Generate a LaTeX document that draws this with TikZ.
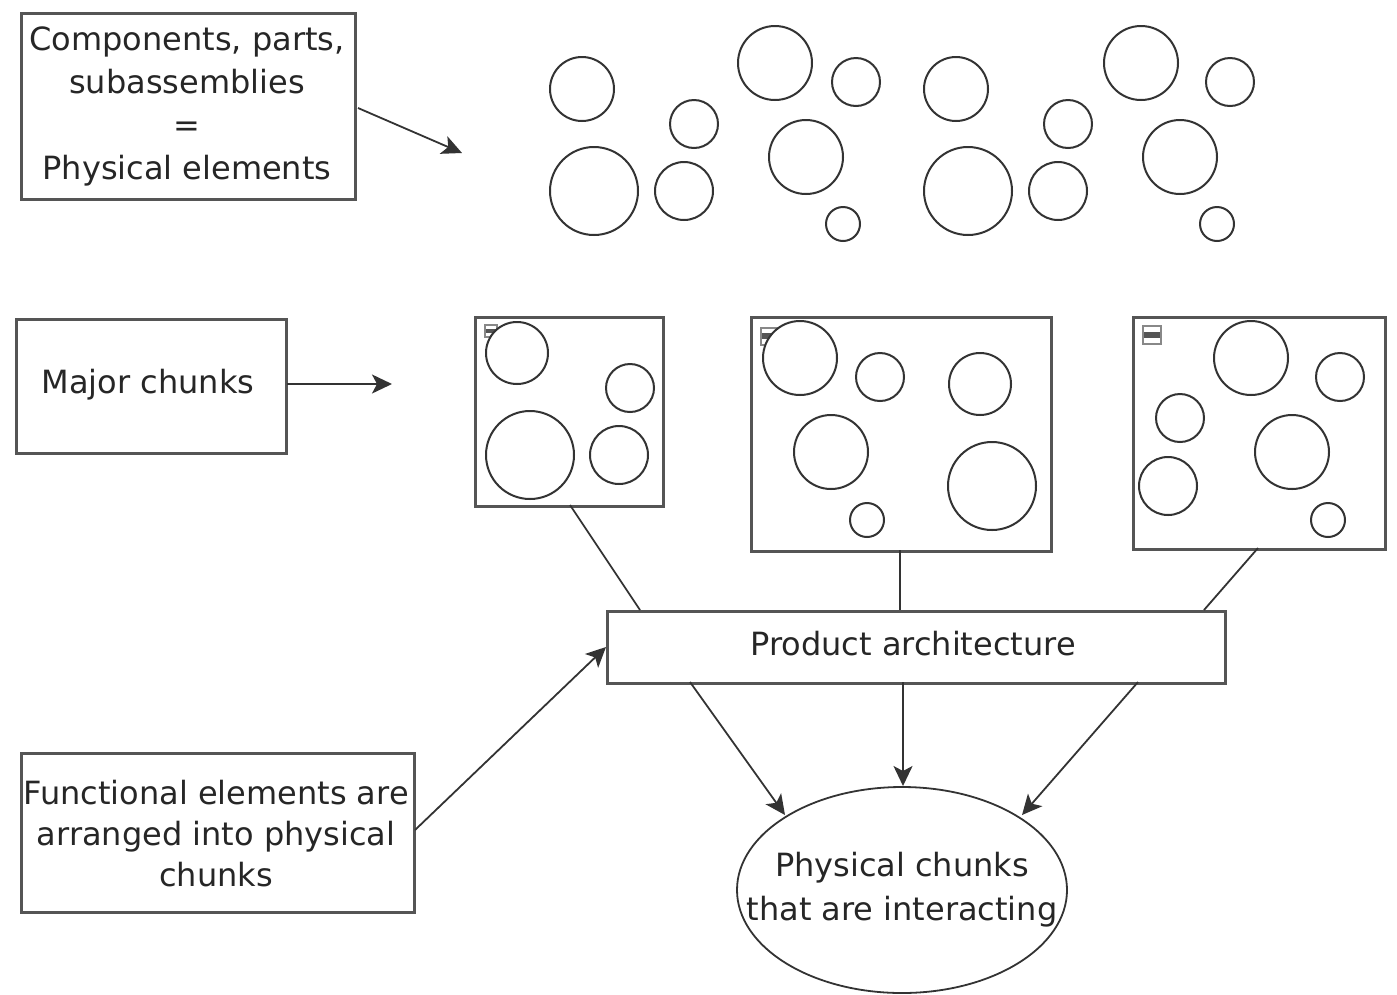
\documentclass[tikz,border=0pt]{standalone}
\usepackage{fontspec}
\setmainfont{DejaVu Sans}
\usetikzlibrary{arrows.meta,shapes.geometric}
\definecolor{ln}{HTML}{333333}
\definecolor{bx}{HTML}{555555}
\begin{document}
\begin{tikzpicture}[x=1pt,y=-1pt,
  lbox/.style={draw=bx,line width=2.6pt,fill=white},
  circ/.style={draw=ln,line width=2pt,fill=white},
  conn/.style={draw=ln,line width=1.8pt},
  arr/.style={conn,-{Stealth[length=20pt,width=19pt,inset=5pt]}},
  txt/.style={font=\fontsize{32}{43}\selectfont,text=black!85,align=center},
  tinysq/.style={draw=bx!70,line width=1.4pt,fill=white}
]
\useasboundingbox (0,0) rectangle (1397,994);

% ---- top-left box
\node[lbox,minimum width=334pt,minimum height=186pt,anchor=north west] (b1) at (20,12) {};
\node[txt] (t1) at (187,106) {Components, parts,\\subassemblies\\=\\Physical elements};
\coordinate (a1s) at (358,108);
\coordinate (a1e) at (462,153);
\draw[arr] (a1s) -- (a1e);

% ---- loose circles
\foreach \dx in {0,374}{
  \begin{scope}[xshift=\dx]
  \draw[circ] (582,89) circle (32);
  \draw[circ] (594,191) circle (44);
  \draw[circ] (694,124) circle (24);
  \draw[circ] (684,191) circle (29);
  \draw[circ] (856,82) circle (24);
  \draw[circ] (806,157) circle (37);
  \draw[circ] (843,224) circle (17);
  \end{scope}
}
\draw[circ] (775,63) circle (37);
\draw[circ] (1141,63) circle (37);

% ---- major chunks box
\node[lbox,minimum width=270pt,minimum height=134pt,anchor=north west] (b2) at (15,318) {};
\node[txt] (t2) at (148,385) {Major chunks};
\coordinate (a2s) at (287,384);
\coordinate (a2e) at (392,384);
\draw[arr] (a2s) -- (a2e);

% ---- chunk A
\node[lbox,minimum width=188pt,minimum height=189pt,anchor=north west] (cA) at (474,316) {};
\draw[tinysq] (485,325) rectangle (497,337);
\fill[bx] (486,329) rectangle (496,333);
\draw[circ] (517,353) circle (31);
\draw[circ] (630,388) circle (24);
\draw[circ] (530,455) circle (44);
\draw[circ] (619,455) circle (29);

% ---- chunk B
\node[lbox,minimum width=300pt,minimum height=234pt,anchor=north west] (cB) at (750,316) {};
\draw[tinysq] (761,328) rectangle (778,345);
\fill[bx] (762,333) rectangle (777,339);
\draw[circ] (800,358) circle (37);
\draw[circ] (880,377) circle (24);
\draw[circ] (980,384) circle (31);
\draw[circ] (831,452) circle (37);
\draw[circ] (992,486) circle (44);
\draw[circ] (867,520) circle (17);

% ---- chunk C
\node[lbox,minimum width=252pt,minimum height=232pt,anchor=north west] (cC) at (1132,316) {};
\draw[tinysq] (1143,326) rectangle (1161,344);
\fill[bx] (1144,332) rectangle (1160,338);
\draw[circ] (1251,358) circle (37);
\draw[circ] (1340,377) circle (24);
\draw[circ] (1180,418) circle (24);
\draw[circ] (1292,452) circle (37);
\draw[circ] (1168,486) circle (29);
\draw[circ] (1328,520) circle (17);

% ---- product architecture
\node[lbox,minimum width=618pt,minimum height=72pt,anchor=north west] (pa) at (606,610) {};
\node[txt] (tpa) at (913,644) {Product architecture};

\coordinate (cAs) at (570,505);
\coordinate (cBs) at (900,550);
\coordinate (cCs) at (1258,548);
\coordinate (paA) at (640,610);
\coordinate (paB) at (900,610);
\coordinate (paC) at (1204,610);
\draw[conn] (cAs) -- (paA);
\draw[conn] (cBs) -- (paB);
\draw[conn] (cCs) -- (paC);

% ---- ellipse
\node[draw=ln,line width=1.8pt,ellipse,minimum width=330pt,minimum height=206pt] (el) at (902,890) {};
\node[txt,font=\fontsize{32}{44}\selectfont] (tel) at (902,890) {Physical chunks\\that are interacting};

\coordinate (p1) at (690,682);
\coordinate (p2) at (903,682);
\coordinate (p3) at (1138,682);
\coordinate (e1) at (785,815);
\coordinate (e2) at (903,786);
\coordinate (e3) at (1022,815);
\draw[arr] (p1) -- (e1);
\draw[arr] (p2) -- (e2);
\draw[arr] (p3) -- (e3);

% ---- functional box
\node[lbox,minimum width=393pt,minimum height=159pt,anchor=north west] (b3) at (20,752) {};
\node[txt,font=\fontsize{32}{41}\selectfont] (t3) at (216,834) {Functional elements are\\arranged into physical\\chunks};
\coordinate (f1) at (415,830);
\coordinate (f2) at (606,647);
\draw[arr] (f1) -- (f2);
\end{tikzpicture}
\end{document}
